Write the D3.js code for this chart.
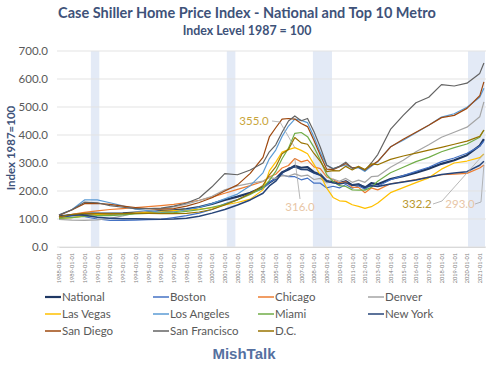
<!DOCTYPE html>
<html>
<head>
<meta charset="utf-8">
<script src="https://cdn.jsdelivr.net/npm/d3@7"></script>
<style>
  body { margin: 0; background: #fff; }
  text { font-family: Lato, "Open Sans", sans-serif; }
</style>
</head>
<body>
<script>
// values, index Jan 1987 = 100
var dates = ["1988-01","1989-01","1990-01","1991-01","1992-01","1993-01","1994-01","1995-01","1996-01","1997-01","1998-01","1999-01","2000-01","2001-01","2002-01","2003-01",
  "2004-01","2004-07","2005-01","2005-07","2006-01","2006-07","2007-01","2007-07","2008-01","2008-07","2009-01","2009-07","2010-01","2010-07","2011-01","2011-07","2012-01","2012-07","2013-01",
  "2014-01","2015-01","2016-01","2017-01","2018-01","2019-01","2020-01","2021-01","2021-05"];

var national     = [106,114,119,119,119,120,123,125,128,131,135,143,154,168,180,194, 213,230,244,267,277,290,283,285,267,259,235,232,228,235,221,224,211,228,224, 243,253,265,280,297,310,328,362, 385];
var boston       = [110,112,108,100,95,95,96,98,99,105,112,121,134,154,169,191, 208,231,244,258,251,251,240,246,228,228,211,217,211,223,210,218,206,221,217, 240,255,270,285,305,318,335,360, 378];
var chicago      = [107,117,124,129,134,137,141,144,148,152,159,167,178,192,206,219, 234,251,260,282,291,316,304,310,286,280,250,241,228,233,213,213,194,211,204, 226,233,241,250,258,260,263,282, 293];
var denver       = [99,96,95,97,102,111,122,129,136,143,153,166,181,204,218,227, 235,247,245,255,253,261,253,257,241,245,229,243,235,245,231,239,231,251,253, 285,310,340,365,392,410,428,465, 518];
var lasVegas     = [102,105,111,116,118,119,121,124,127,130,132,135,140,150,159,171, 204,272,303,339,348,355,345,333,295,257,210,177,165,163,151,145,138,144,157, 194,212,230,247,278,300,307,319, 332.2];
var losAngeles   = [115,133,168,168,158,147,135,130,124,125,133,142,155,172,189,219, 265,315,346,395,432,457,452,444,393,337,292,280,287,293,282,283,270,288,304, 358,381,408,435,464,476,499,535, 567];
var miami        = [102,105,109,112,112,115,118,120,121,123,127,133,142,152,168,188, 212,238,270,315,353,406,409,394,356,311,258,234,219,216,204,203,203,213,235, 265,285,305,320,340,355,368,392, 418];
var newYork      = [111,115,113,106,103,101,101,100,99,100,103,110,121,134,150,168, 192,218,235,264,281,286,277,276,264,256,235,229,225,229,221,223,215,219,216, 225,232,239,249,259,264,269,292, 306];
var sanDiego     = [113,132,155,156,152,146,141,137,135,137,146,159,176,200,222,263, 320,393,426,457,459,457,441,430,380,328,278,276,287,298,283,285,276,291,306, 357,385,410,435,462,470,495,540, 590];
var sanFrancisco = [114,133,160,158,148,142,137,137,139,146,157,175,215,262,258,275, 300,340,365,410,450,468,451,459,412,356,292,279,288,303,281,285,273,300,330, 420,470,515,535,580,575,585,620, 657];
var dc           = [108,116,120,119,119,119,120,120,119,119,120,125,134,150,169,191, 220,258,286,333,348,391,372,367,334,306,269,273,272,288,275,288,277,297,294, 313,325,335,346,356,367,378,395, 418];

var names  = ["National","Boston","Chicago","Denver","Las Vegas","Los Angeles","Miami","New York","San Diego","San Francisco","D.C."];
var values = [national,boston,chicago,denver,lasVegas,losAngeles,miami,newYork,sanDiego,sanFrancisco,dc];
var colors = ["#1f3864","#4472c4","#ed7d31","#a5a5a5","#ffc000","#5b9bd5","#70ad47","#264478","#9e480e","#636363","#997300"];

var yTicks = [0,100,200,300,400,500,600,700];
var recessions = [["1990-07","1991-03"],["2001-03","2001-11"],["2007-12","2009-06"],["2020-02","2021-06"]];

var annoText   = ["355.0","316.0","332.2","293.0"];
var annoSeries = ["Las Vegas","Chicago","Las Vegas","Chicago"];
var annoDate   = ["2006-07","2006-07","2021-05","2021-05"];

var width = 500, height = 369;
var parse = d3.timeParse("%Y-%m");

var svg = d3.select("body").append("svg")
    .attr("width", width)
    .attr("height", height);

var x = d3.scaleTime()
    .domain([parse("1988-01"), parse("2021-06")])
    .range([59, 485]);
var y = d3.scaleLinear()
    .domain([0, 700])
    .range([247, 51]);

// recession bands
svg.append("g").selectAll("rect")
  .data(recessions)
  .enter().append("rect")
    .attr("x", function(d) { return x(parse(d[0])); })
    .attr("y", y(700))
    .attr("width", function(d) { return x(parse(d[1])) - x(parse(d[0])); })
    .attr("height", y(0) - y(700))
    .attr("fill", "#e3eaf6");

// gridlines
svg.append("g").selectAll("line")
  .data(yTicks)
  .enter().append("line")
    .attr("x1", 57).attr("x2", 486)
    .attr("y1", function(d) { return y(d); })
    .attr("y2", function(d) { return y(d); })
    .attr("stroke", "#e3e3e3")
    .attr("stroke-width", 1);

// y axis labels
var yAxis = d3.axisLeft(y).tickValues(yTicks).tickFormat(d3.format(".1f")).tickSize(0).tickPadding(9);
var yg = svg.append("g").attr("transform", "translate(57,0)").call(yAxis);
yg.select(".domain").remove();
yg.selectAll("text").attr("font-size", "11.5px").attr("fill", "#595959").style("font-family", "Lato, sans-serif");

// x axis labels
var years = d3.range(1988, 2022).map(function(yr) { return parse(yr + "-01"); });
var xAxis = d3.axisBottom(x).tickValues(years).tickFormat(d3.timeFormat("%Y-%m-%d")).tickSize(0);
var xg = svg.append("g").attr("transform", "translate(0," + y(0) + ")").call(xAxis);
xg.select(".domain").attr("stroke", "#d9d9d9");
xg.selectAll("text")
    .attr("transform", "rotate(-90)")
    .attr("text-anchor", "end")
    .attr("x", -6).attr("y", 0).attr("dy", "0.35em")
    .attr("font-size", "5.6px")
    .attr("fill", "#7f7f7f")
    .style("font-family", "Lato, sans-serif");

// lines
var line = d3.line()
    .x(function(d, i) { return x(parse(dates[i])); })
    .y(function(d) { return y(d); });

svg.append("g").selectAll("path")
  .data(values)
  .enter().append("path")
    .attr("d", line)
    .attr("fill", "none")
    .attr("stroke", function(d, i) { return colors[i]; })
    .attr("stroke-width", function(d, i) { return i === 0 ? 2.2 : (i === 7 ? 1.5 : 1.2); })
    .attr("stroke-linejoin", "round");

// data labels
var labelPos = [[254,125],[300,211],[417,208],[460,208]];
var leadFrom = [[[272,121],[280,122]], [[300,199],[300,199]], [[433,204],[442,201]], [[475,204],[481,202]]];
var annoColor = ["#c9a53b","#e8c6a6","#b8972e","#e8c6a6"];
annoText.forEach(function(t, k) {
  var s = names.indexOf(annoSeries[k]);
  var di = dates.indexOf(annoDate[k]);
  var px = x(parse(dates[di])), py = y(values[s][di]);
  var pts = leadFrom[k].concat([[px, py]]);
  svg.append("path")
      .attr("d", d3.line()(pts))
      .attr("fill", "none")
      .attr("stroke", "#a6a6a6")
      .attr("stroke-width", 0.8);
  svg.append("text")
      .attr("x", labelPos[k][0]).attr("y", labelPos[k][1])
      .attr("text-anchor", "middle")
      .attr("font-size", "11.5px")
      .attr("fill", annoColor[k])
      .text(t);
});

// titles
svg.append("text")
    .attr("x", 247).attr("y", 18)
    .attr("text-anchor", "middle")
    .attr("font-size", "14.5px").attr("font-weight", "bold")
    .attr("fill", "#3e5279")
    .text("Case Shiller Home Price Index - National and Top 10 Metro");
svg.append("text")
    .attr("x", 247).attr("y", 35)
    .attr("text-anchor", "middle")
    .attr("font-size", "12.4px").attr("font-weight", "bold")
    .attr("fill", "#3e5279")
    .text("Index Level 1987 = 100");
svg.append("text")
    .attr("transform", "translate(15,148) rotate(-90)")
    .attr("text-anchor", "middle")
    .attr("font-size", "11.5px").attr("font-weight", "bold")
    .attr("fill", "#3e5279")
    .text("Index 1987=100");

// legend
var colX = [45, 153, 258, 368], rowY = [297, 314, 331];
var lg = svg.append("g").selectAll("g")
  .data(names)
  .enter().append("g")
    .attr("transform", function(d, i) { return "translate(" + colX[i % 4] + "," + rowY[Math.floor(i / 4)] + ")"; });
lg.append("line")
    .attr("x1", 0).attr("x2", 16)
    .attr("stroke", function(d, i) { return colors[i]; })
    .attr("stroke-width", function(d, i) { return i === 0 ? 2.2 : 1.5; });
lg.append("text")
    .attr("x", 17).attr("dy", "0.35em")
    .attr("font-size", "11.5px")
    .attr("fill", "#595959")
    .text(function(d) { return d; });

svg.append("text")
    .attr("x", 244).attr("y", 359)
    .attr("text-anchor", "middle")
    .attr("font-size", "15px").attr("font-weight", "bold")
    .attr("fill", "#5570a0")
    .style("font-family", "'Liberation Sans', Arial, sans-serif")
    .text("MishTalk");
</script>
</body>
</html>
